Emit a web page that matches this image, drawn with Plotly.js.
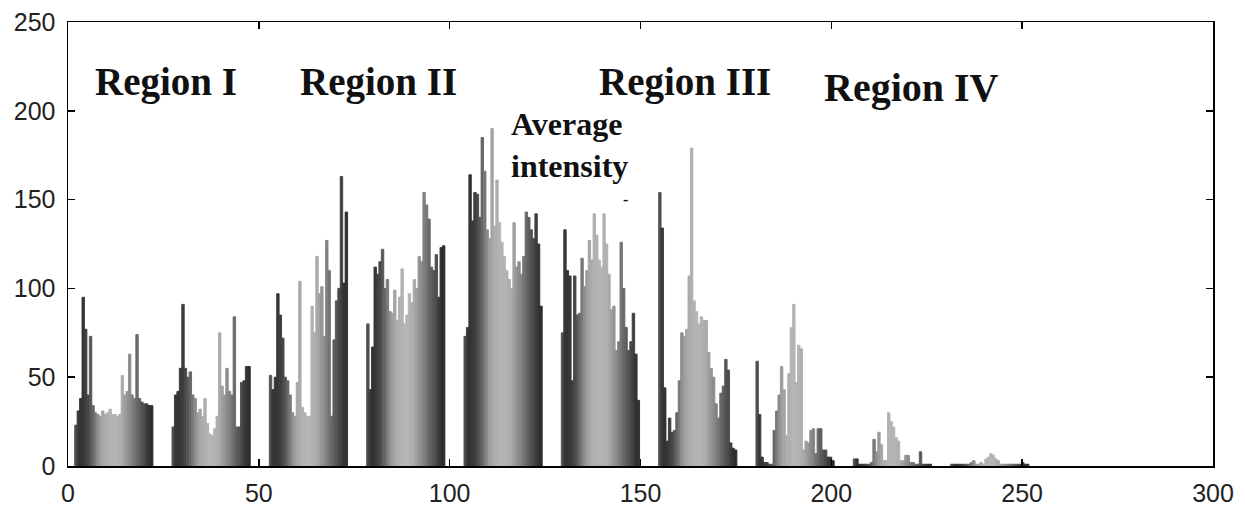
<!DOCTYPE html>
<html>
<head>
<meta charset="utf-8">
<script src="https://cdn.plot.ly/plotly-3.0.1.min.js"></script>
<style>html,body{margin:0;padding:0;background:#fff;}#chart{width:1245px;height:510px;}</style>
</head>
<body>
<div id="chart"></div>
<script>
// Group positions on the x axis (one group of sub-bars per position)
const groupX = [12, 37.5, 63, 88.5, 114, 139.5, 165, 190.5, 216, 241.5];
const xTicks = [0, 50, 100, 150, 200, 250, 300];
const yTicks = [0, 50, 100, 150, 200, 250];

// Gray level of each sub-bar series (0-255)
const seriesGray = [80, 55, 50, 55, 60, 70, 85, 100, 120, 140, 155, 165, 172, 175, 178, 180,
                    180, 178, 175, 170, 160, 150, 140, 130, 118, 105, 95, 85, 75, 62, 52, 45];

// Heights of the 32 sub-bars in each group
const group1 = [23, 31, 38, 95, 77, 40, 73, 34, 30, 29, 28, 31, 29, 30, 32, 29,
                29, 28, 29, 51, 40, 42, 63, 40, 38, 74, 38, 36, 35, 35, 34, 34];
const group2 = [22, 40, 42, 55, 91, 55, 50, 53, 40, 38, 30, 32, 28, 38, 24, 18,
                17, 21, 28, 75, 45, 40, 55, 42, 40, 84, 22, 22, 47, 48, 56, 56];
const group3 = [51, 43, 50, 97, 85, 72, 50, 48, 40, 30, 28, 47, 104, 33, 30, 28,
                28, 90, 75, 118, 97, 101, 73, 127, 110, 28, 71, 93, 100, 163, 103, 143];
const group4 = [80, 43, 67, 112, 108, 115, 122, 100, 105, 87, 86, 99, 82, 95, 111, 80,
                85, 97, 92, 105, 100, 118, 115, 154, 147, 139, 112, 110, 119, 95, 123, 124];
const group5 = [73, 78, 164, 138, 154, 153, 140, 185, 166, 133, 128, 190, 135, 161, 137, 126,
                118, 110, 105, 100, 137, 112, 115, 108, 118, 143, 140, 133, 128, 142, 125, 90];
const group6 = [75, 133, 110, 107, 48, 107, 85, 86, 117, 101, 110, 127, 116, 142, 130, 116,
                112, 142, 125, 108, 88, 90, 65, 70, 126, 100, 78, 65, 70, 86, 63, 37];
const group7 = [154, 134, 44, 14, 27, 19, 20, 30, 48, 75, 73, 77, 107, 179, 93, 87,
                80, 84, 82, 82, 64, 55, 50, 35, 27, 41, 45, 60, 54, 13, 10, 9];
const group8 = [59, 29, 5, 2, 2, 1, 1, 20, 31, 40, 56, 43, 17, 52, 78, 91,
                47, 68, 66, 9, 14, 13, 20, 21, 7, 21, 21, 9, 9, 5, 5, 3];
const group9 = [4, 4, 1, 1, 1, 1, 1, 2, 15, 8, 19, 12, 3, 3, 30, 25,
                22, 16, 14, 3, 3, 6, 6, 2, 2, 1, 1, 8, 1, 1, 1, 1];
const group10 = [1, 1, 1, 1, 1, 1, 1, 1, 2, 3, 1, 1, 2, 1, 4, 5,
                 7, 6, 4, 3, 1, 1, 1, 1, 1, 1, 1, 1, 1, 2, 1, 1];

const groups = [group1, group2, group3, group4, group5, group6, group7, group8, group9, group10];

const traces = seriesGray.map((g, s) => ({
  type: 'bar',
  x: groupX,
  y: groups.map(grp => grp[s]),
  marker: {color: `rgb(${g},${g},${g})`, line: {width: 0.9, color: `rgb(${g},${g},${g})`}},
  hoverinfo: 'skip',
  showlegend: false
}));

const serif = '"Liberation Serif", "Times New Roman", serif';
const labelFont = {family: serif, size: 39, color: '#111'};

const layout = {
  width: 1245, height: 510,
  margin: {l: 68, r: 32, t: 22, b: 44, pad: 0},
  paper_bgcolor: '#fff', plot_bgcolor: '#fff',
  barmode: 'group', bargap: 0.196, bargroupgap: 0,
  font: {family: '"Liberation Sans", Arial, sans-serif', size: 25, color: '#222'},
  xaxis: {
    range: [0, 300], tickvals: xTicks, ticktext: xTicks.map(String),
    ticks: 'inside', ticklen: 7, tickwidth: 1.5, tickcolor: '#000',
    showline: true, linecolor: '#000', linewidth: 1.5, mirror: 'ticks',
    showgrid: false, zeroline: false, ticklabelstandoff: 4
  },
  yaxis: {
    range: [0, 250], tickvals: yTicks, ticktext: yTicks.map(String),
    ticks: 'inside', ticklen: 7, tickwidth: 1.5, tickcolor: '#000',
    showline: true, linecolor: '#000', linewidth: 1.5, mirror: 'ticks',
    showgrid: false, zeroline: false, ticklabelstandoff: 6
  },
  annotations: [
    {text: '<b>Region I</b>', x: 6.5, y: 216, xref: 'x', yref: 'y', xanchor: 'left', yanchor: 'middle', showarrow: false, font: labelFont},
    {text: '<b>Region II</b>', x: 60.3, y: 216, xref: 'x', yref: 'y', xanchor: 'left', yanchor: 'middle', showarrow: false, font: labelFont},
    {text: '<b>Region III</b>', x: 138.6, y: 216, xref: 'x', yref: 'y', xanchor: 'left', yanchor: 'middle', showarrow: false, font: labelFont},
    {text: '<b>Region IV</b>', x: 197.5, y: 213, xref: 'x', yref: 'y', xanchor: 'left', yanchor: 'middle', showarrow: false, font: {family: serif, size: 40, color: '#111'}},
    {text: '<b>Average<br>intensity</b>', x: 115.5, y: 181, xref: 'x', yref: 'y', xanchor: 'left', yanchor: 'middle', align: 'left', showarrow: false, font: {family: serif, size: 32, color: '#111'}},
    {text: '<b>-</b>', x: 146, y: 150, xref: 'x', yref: 'y', xanchor: 'center', yanchor: 'middle', showarrow: false, font: {family: serif, size: 16, color: '#111'}}
  ]
};

Plotly.newPlot('chart', traces, layout, {staticPlot: true, displayModeBar: false});
</script>
</body>
</html>
